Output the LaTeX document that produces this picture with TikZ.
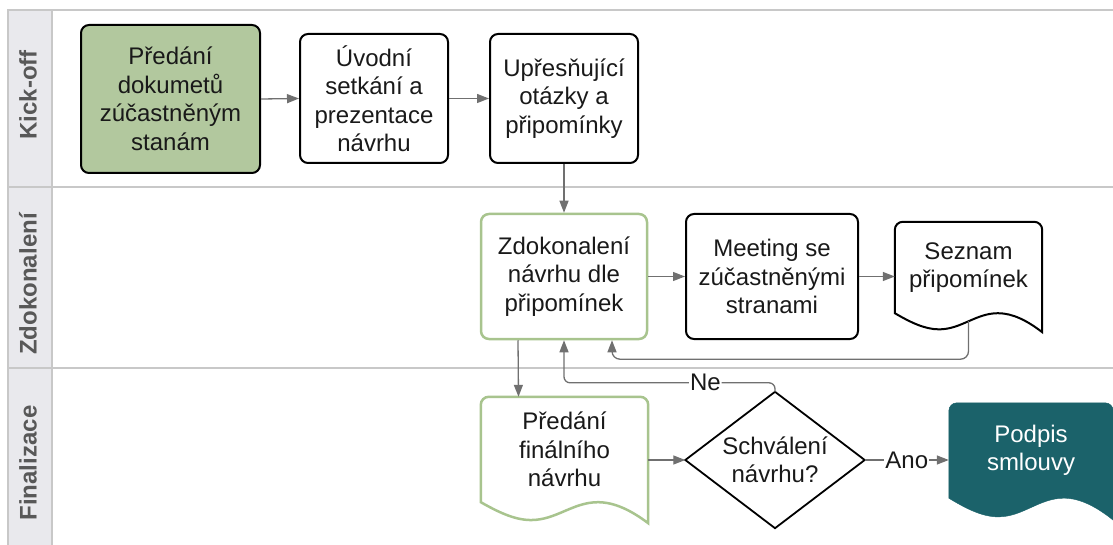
\documentclass[tikz,border=0pt]{standalone}
\usepackage{fontspec}
\setmainfont{Liberation Sans}
\usetikzlibrary{arrows.meta,calc,backgrounds}

\definecolor{laneline}{RGB}{200,200,200}
\definecolor{lanefill}{RGB}{233,233,237}
\definecolor{lanetext}{RGB}{88,88,88}
\definecolor{stepgreen}{RGB}{178,200,158}
\definecolor{edgegreen}{RGB}{168,196,142}
\definecolor{signteal}{RGB}{27,98,106}
\definecolor{connector}{RGB}{112,112,112}
\definecolor{ink}{RGB}{25,25,25}

\tikzset{
  every node/.style={font=\fontsize{24}{28.5}\selectfont, text=ink},
  box/.style={draw=black, line width=2pt, rounded corners=8pt, align=center, inner sep=0pt},
  greenbox/.style={box, fill=stepgreen},
  softbox/.style={box, draw=edgegreen, line width=2.5pt},
  docbox/.style={align=center, inner sep=0pt},
  conn/.style={draw=connector, line width=1.3pt, -{Triangle[length=12pt,width=9pt]}},
  lbl/.style={fill=white, inner sep=1pt},
  lanelbl/.style={rotate=90, font=\fontsize{24}{28}\selectfont\bfseries, text=lanetext},
}

% dokument: zaobleny vrsek, vlnity spodek
\newcommand{\docoutline}[3]{%
  \draw[#3] (#1.south west) -- ([yshift=-8pt]#1.north west)
    arc[start angle=180, end angle=90, radius=8pt] -- ([xshift=-8pt]#1.north east)
    arc[start angle=90, end angle=0, radius=8pt] -- ($(#1.south east)+(0,#2)$)
    .. controls ($(#1.south west)!0.9!(#1.south east)+(0,0.4*#2)$) and ($(#1.south west)!0.8!(#1.south east)$) .. ($(#1.south west)!0.7!(#1.south east)$)
    .. controls ($(#1.south west)!0.55!(#1.south east)$) and ($(#1.south west)!0.45!(#1.south east)+(0,0.85*#2)$) .. ($(#1.south west)!0.3!(#1.south east)+(0,0.85*#2)$)
    .. controls ($(#1.south west)!0.2!(#1.south east)+(0,0.85*#2)$) and ($(#1.south west)!0.1!(#1.south east)+(0,0.45*#2)$) .. (#1.south west) -- cycle;}

\begin{document}
\begin{tikzpicture}[x=1pt, y=-1pt]
  \useasboundingbox (0,0) rectangle (1113,545);
  % drahy
  \begin{scope}[on background layer]
    \fill[lanefill] (8,10) rectangle (52,545);
    \draw[laneline, line width=2pt] (1113,10) -- (8,10) -- (8,545);
    \draw[laneline, line width=2pt] (52,10) -- (52,545);
    \foreach \y in {187,368}
      \draw[laneline, line width=2pt] (8,\y) -- (1113,\y);
  \end{scope}
  \foreach \y/\n/\t in {95/kick/Kick-off, 284/zdok/Zdokonalení, 463/fin/Finalizace}
    \node[lanelbl] (lane-\n) at (28,\y) {\t};

  % Kick-off
  \node[greenbox, minimum width=179pt, minimum height=148pt] (predani) at (170.5,99)
        {Předání\\dokumetů\\zúčastněným\\stanám};
  \node[box, minimum width=148pt, minimum height=129pt] (uvodni) at (374,98.5)
        {Úvodní\\setkání a\\prezentace\\návrhu};
  \node[box, minimum width=148pt, minimum height=129pt] (upresneni) at (564,98.5)
        {Upřesňující\\otázky a\\připomínky};

  % Zdokonaleni
  \node[softbox, minimum width=166pt, minimum height=125pt] (zdokonaleni) at (564,276.5)
        {Zdokonalení\\návrhu dle\\připomínek};
  \node[box, minimum width=172pt, minimum height=125pt] (meeting) at (772,276.5)
        {Meeting se\\zúčastněnými\\stranami};
  \node[docbox, minimum width=147pt, minimum height=91pt] (seznam) at (968.5,267.5)
        {Seznam\\připomínek};

  % Finalizace
  \node[docbox, minimum width=167pt, minimum height=105pt] (finalni) at (564.5,449.5)
        {Předání\\finálního\\návrhu};
  \node[docbox, minimum width=179pt, minimum height=136pt] (schvaleni) at (775,460)
        {Schválení\\návrhu?};
  \draw[line width=1.8pt] (schvaleni.north) -- (schvaleni.east) -- (schvaleni.south)
        -- (schvaleni.west) -- cycle;
  \node[docbox, minimum width=164pt, minimum height=95pt, text=white] (podpis) at (1031,450.5)
        {Podpis\\smlouvy};

  \begin{scope}[on background layer]
    \docoutline{seznam}{19}{draw=black, line width=2pt, fill=white}
    \docoutline{finalni}{21}{draw=edgegreen, line width=2.5pt, fill=white}
    \docoutline{podpis}{22}{draw=signteal, fill=signteal}
  \end{scope}

  % spojnice
  \draw[conn] (predani.east) -- (uvodni.west);
  \draw[conn] (uvodni.east) -- (upresneni.west);
  \draw[conn] (upresneni.south) -- (zdokonaleni.north);
  \draw[conn] (zdokonaleni.east) -- (meeting.west);
  \draw[conn] (meeting.east) -- (seznam.west |- meeting.east);
  \draw[conn, rounded corners=8pt] ([yshift=-8pt]seznam.south) -- ++(0,38)
        -| ([xshift=48pt]zdokonaleni.south);
  \draw[conn] ([xshift=-46pt]zdokonaleni.south) -- ([xshift=-46pt]finalni.north);
  \draw[conn] (finalni.east |- schvaleni.west) -- (schvaleni.west);
  \coordinate (neturn) at ($(schvaleni.north)+(0,-9)$);
  \draw[conn, rounded corners=6pt] (schvaleni.north) -- (neturn)
        -- node[lbl, pos=0.33] (ne) {Ne} (neturn -| zdokonaleni.south) -- (zdokonaleni.south);
  \draw[conn] (schvaleni.east) -- node[lbl] (ano) {Ano} (podpis.west |- schvaleni.east);
\end{tikzpicture}
\end{document}
